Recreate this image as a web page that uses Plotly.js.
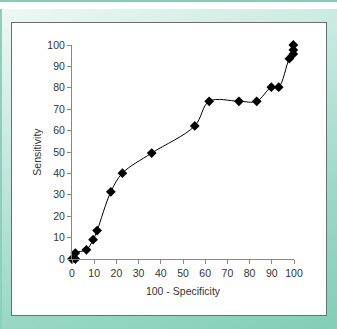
<!DOCTYPE html>
<html><head><meta charset="utf-8">
<script src="https://cdn.plot.ly/plotly-3.0.1.min.js"></script>
<style>
html,body{margin:0;padding:0;width:337px;height:329px;overflow:hidden;background:#fff;}
#topline{position:absolute;left:0;top:0;width:337px;height:2px;background:#86cdb8;}
#bg{position:absolute;left:0;top:9px;width:337px;height:320px;
 background:linear-gradient(160deg,#eef8f5 0%,#c4e8dd 35%,#9bd8c6 70%,#82ceb7 100%);
 box-shadow:inset 2px 0 0 #8ad0bb;}
#chart{position:absolute;left:11px;top:22px;width:314px;height:292px;border:1px solid #6e6e6e;background:#fff;}
</style></head>
<body>
<div id="topline"></div>
<div id="bg"></div>
<div id="chart"></div>
<script>
const fpr = [0, 1.5, 1.5, 6.5, 9.5, 11.3, 17.5, 22.7, 35.9, 55.3, 61.8, 75.2, 83.2, 89.8, 93.1, 97.9, 99.7, 99.7, 99.7];
const sensitivity = [0, 0, 2.8, 4.3, 9, 13.3, 31.4, 40.1, 49.5, 62.2, 73.7, 73.7, 73.7, 80.3, 80.3, 93.6, 95.8, 97.7, 100];
const tickVals = [0,10,20,30,40,50,60,70,80,90,100];
const xTitle = "100 - Specificity";
const yTitle = "Sensitivity";

const fnt = 'Liberation Sans, Arial, sans-serif';
const axisCommon = {
  range:[0,100], tickvals:tickVals, ticks:'outside', ticklen:4, tickcolor:'#888', tickwidth:1,
  showline:true, linecolor:'#888', linewidth:1, showgrid:false, zeroline:false,
  tickfont:{family:fnt, size:10.5, color:'#333'}, fixedrange:true
};
Plotly.newPlot('chart',[{
  x:fpr, y:sensitivity, type:'scatter', mode:'lines+markers',
  line:{color:'#000', width:1, shape:'spline', smoothing:1},
  marker:{symbol:'diamond', size:7.5, color:'#000'}, cliponaxis:false
}],{
  width:314, height:292, margin:{l:60,r:32,t:22,b:56},
  paper_bgcolor:'#fff', plot_bgcolor:'#fff', showlegend:false,
  xaxis:Object.assign({}, axisCommon, {title:{text:xTitle, font:{family:fnt, size:10.5, color:'#333'}, standoff:10}}),
  yaxis:Object.assign({}, axisCommon, {title:{text:yTitle, font:{family:fnt, size:10.5, color:'#333'}, standoff:3}})
},{staticPlot:true});
</script>
</body></html>
